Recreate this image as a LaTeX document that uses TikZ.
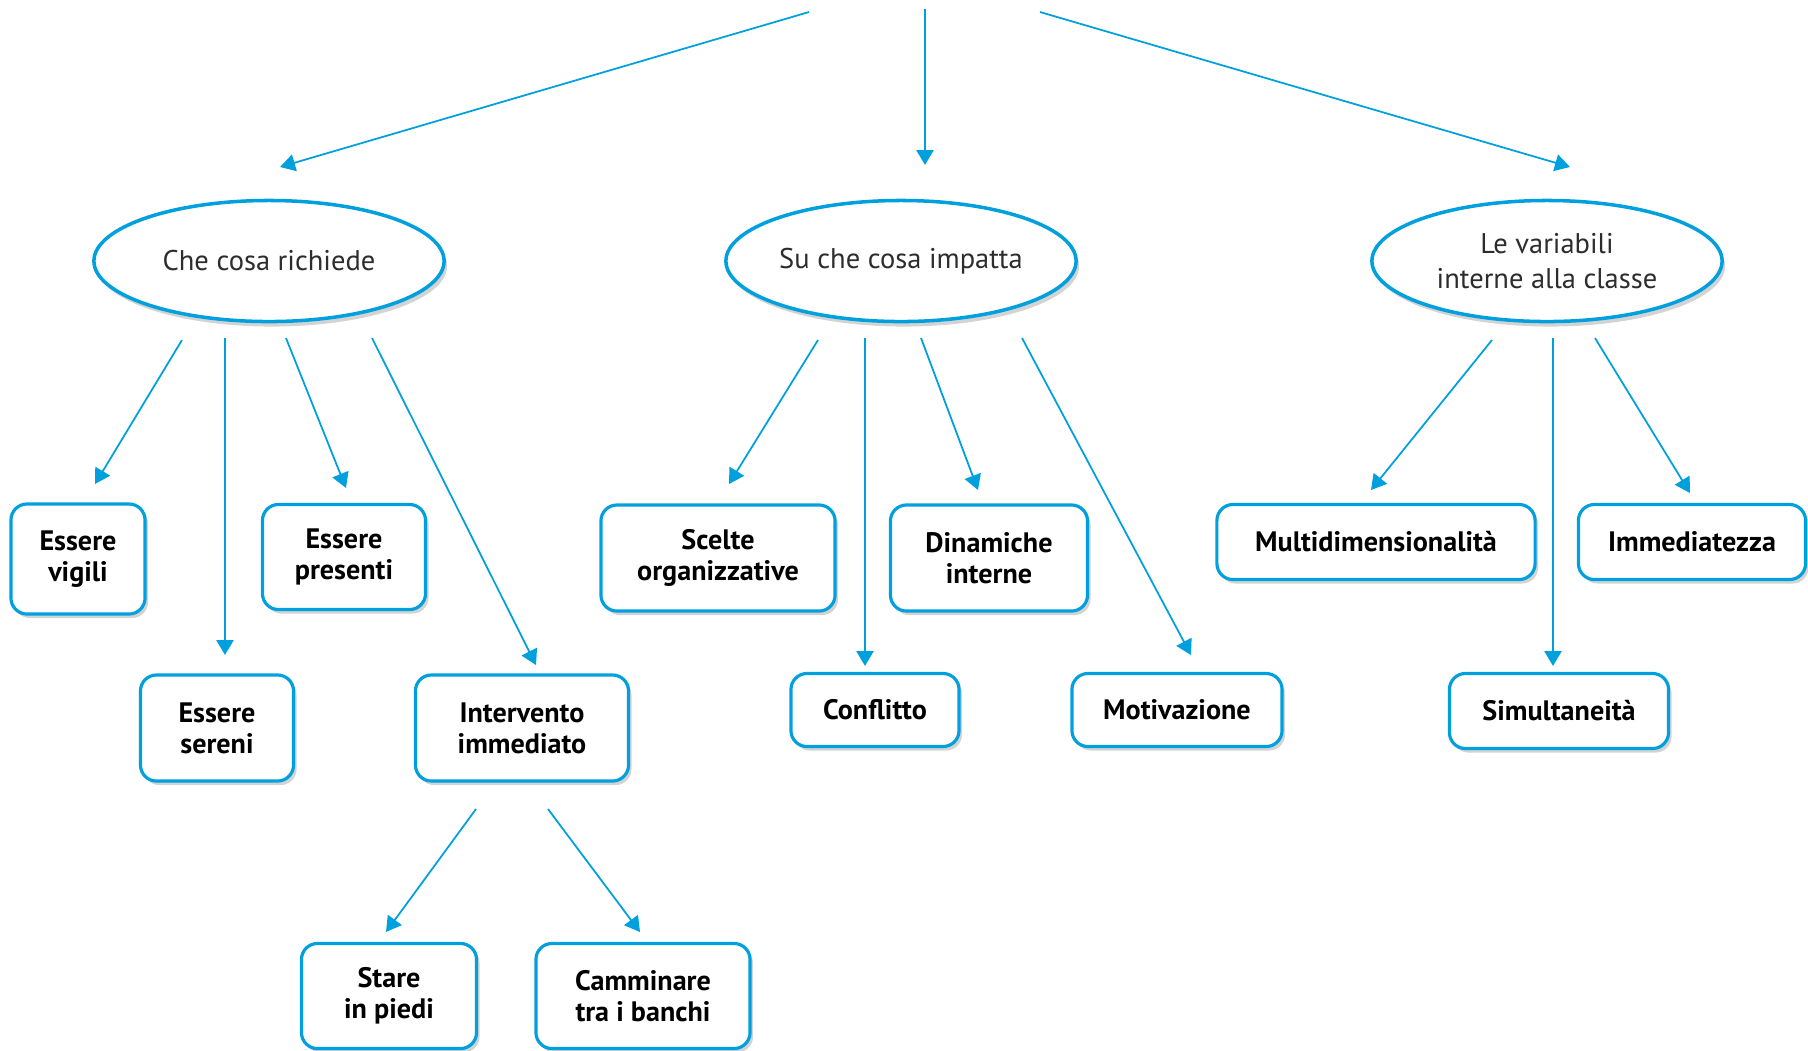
\documentclass[tikz,border=0pt]{standalone}
\usepackage{fontspec}
\setmainfont{PT Sans}
\usetikzlibrary{arrows.meta,shadows,shapes.geometric}
\definecolor{cblue}{RGB}{0,160,223}
\definecolor{txtgrey}{RGB}{45,45,45}

\begin{document}
\begin{tikzpicture}[x=0.01cm,y=-0.01cm,
	topic/.style={shape=ellipse,draw=cblue,line width=1pt,fill=white,
		minimum width=3.5cm,minimum height=1.21cm,inner sep=0pt,align=center,
		text=txtgrey,font=\fontsize{8.1}{9.9}\selectfont,
		drop shadow={opacity=0.35,shadow xshift=0.3mm,shadow yshift=-0.5mm}},
	item/.style={draw=cblue,line width=0.9pt,rounded corners=1.6mm,fill=white,
		inner sep=0pt,align=center,text=black,
		font=\bfseries\fontsize{8}{8.8}\selectfont,
		drop shadow={opacity=0.35,shadow xshift=0.3mm,shadow yshift=-0.4mm}},
	link/.style={draw=cblue,line width=0.5pt,-{Triangle[length=1.5mm,width=1.7mm]}},
	trunk/.style={link,line width=0.75pt}]
	
	\useasboundingbox (0,0) rectangle (1808,1050);
	
	% free starts of the top arrows
	\coordinate (t1) at (809,12);
	\coordinate (t2) at (925,9);
	\coordinate (t3) at (1040,12);
	
	\node[topic] (e1) at (269,261) {Che cosa richiede};
	\node[topic] (e2) at (901,261) {Su che cosa impatta};
	\node[topic] (e3) at (1547,261) {Le variabili\\interne alla classe};
	
	\node[item,minimum width=1.34cm,minimum height=1.10cm] (vig) at (78,559) {Essere\\vigili};
	\node[item,minimum width=1.63cm,minimum height=1.05cm] (pre) at (344,557) {Essere\\presenti};
	\node[item,minimum width=1.53cm,minimum height=1.06cm] (ser) at (217,728) {Essere\\sereni};
	\node[item,minimum width=2.13cm,minimum height=1.06cm] (int) at (522,728) {Intervento\\immediato};
	\node[item,minimum width=1.75cm,minimum height=1.05cm] (sta) at (389,996) {Stare\\in piedi};
	\node[item,minimum width=2.14cm,minimum height=1.05cm] (cam) at (643,996) {Camminare\\tra i banchi};
	
	\node[item,minimum width=2.34cm,minimum height=1.06cm] (sce) at (718,558) {Scelte\\organizzative};
	\node[item,minimum width=1.97cm,minimum height=1.06cm] (din) at (989,558) {Dinamiche\\interne};
	\node[item,minimum width=1.68cm,minimum height=0.73cm] (con) at (875,710) {Conflitto};
	\node[item,minimum width=2.10cm,minimum height=0.73cm] (mot) at (1177,710) {Motivazione};
	
	\node[item,minimum width=3.18cm,minimum height=0.75cm] (mul) at (1376,542) {Multidimensionalità};
	\node[item,minimum width=2.27cm,minimum height=0.75cm] (imm) at (1692,542) {Immediatezza};
	\node[item,minimum width=2.19cm,minimum height=0.75cm] (sim) at (1559,711) {Simultaneità};
	
	\draw[link] (t1) -- ([shift={(11,-94)}]e1.center);
	\draw[trunk] (t2) -- ([shift={(24,-96)}]e2.center);
	\draw[link] (t3) -- ([shift={(23,-94)}]e3.center);
	
	\draw[link] ([shift={(-87,79)}]e1.center) -- ([shift={(17,-75)}]vig.center);
	\draw[trunk] ([shift={(-44,77)}]e1.center) -- ([shift={(8,-73)}]ser.center);
	\draw[link] ([shift={(17,77)}]e1.center) -- ([shift={(2,-69)}]pre.center);
	\draw[link] ([shift={(103,77)}]e1.center) -- ([shift={(14,-63)}]int.center);
	\draw[link] ([shift={(-46,81)}]int.center) -- ([shift={(-3,-64)}]sta.center);
	\draw[link] ([shift={(26,81)}]int.center) -- ([shift={(-3,-64)}]cam.center);
	
	\draw[link] ([shift={(-83,79)}]e2.center) -- ([shift={(11,-74)}]sce.center);
	\draw[trunk] ([shift={(-36,77)}]e2.center) -- ([shift={(-10,-44)}]con.center);
	\draw[link] ([shift={(20,77)}]e2.center) -- ([shift={(-11,-68)}]din.center);
	\draw[link] ([shift={(121,77)}]e2.center) -- ([shift={(14,-55)}]mot.center);
	
	\draw[link] ([shift={(-55,79)}]e3.center) -- ([shift={(-5,-52)}]mul.center);
	\draw[trunk] ([shift={(6,77)}]e3.center) -- ([shift={(-6,-45)}]sim.center);
	\draw[link] ([shift={(48,77)}]e3.center) -- ([shift={(-2,-49)}]imm.center);
\end{tikzpicture}
\end{document}
